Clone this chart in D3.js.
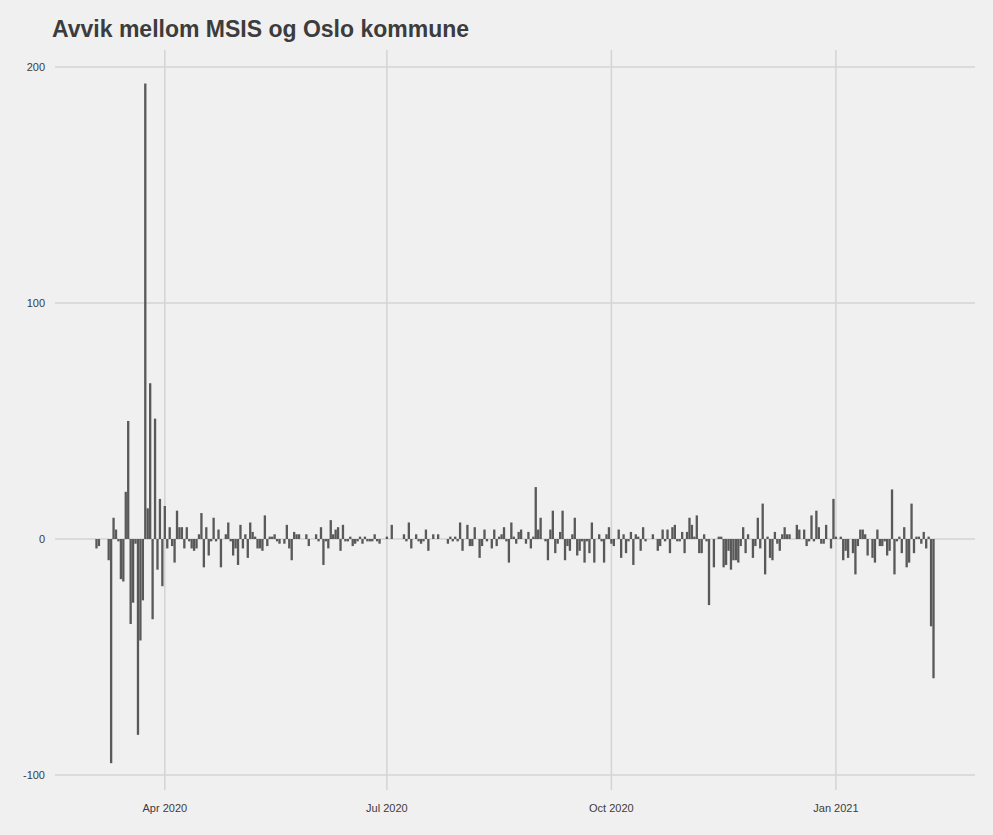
<!DOCTYPE html>
<html>
<head>
<meta charset="utf-8">
<script src="https://cdn.jsdelivr.net/npm/d3@7"></script>
<style>
	body { margin: 0; background: #f0f0f0; }
	svg { display: block; font-family: "Liberation Sans", Arial, sans-serif; }
</style>
</head>
<body>
<svg id="chart" width="993" height="835"></svg>
<script>
// daily deviation, starting 1 Mar 2020
const seg1 = [0,0,0,-4,-3,0,0,0,-9,-95,9,4,-1,-17,-18,20,50,-36,-27,-2,-83,-43,-26,193,13,66,-34,51,-13,17,-20,14,-4,5,-3,-10,12,5];
const seg2 = [5,-4,5,-1,-4,-5,-4,2,11,-12,5,-7,-1,9,-1,4,-12,0,2,7,-1,-7,-4,-11,6,-4,2,-8,7,3,1,-4,-4,-5,10,-3,1,1,2,-1,-2,0,-2,6,-4,-9,3,2,2,0,0,2,-3,0,0,2,-1,5,-11,-1,-4,8,2,4,5,-5,6,-1,-1,1,-3,-2,-1,1,-2,1,-1,-1,-1,2,-1];
const seg3 = [-2,0,0,1,0,6,0,0,0,0,2,-1,7,-4,0,2,-1,-2,-1,4,-5,0,2,0,2,0,0,0,-2,1,-1,1,-1,7,-5,0,6,-3,-3,5,0,-8,-3,4,-1,0,-4,4,-3,1,2,5,-1,-10,7,1,-2,3,4,0,-2,3,-4,1,22,4,9,0,-1,-9,4,12,-6,-2,3,12,-9,-3,-5,2,9];
const seg4 = [-7,-5,-1,-10,-1,-6,7,-10,0,2,-1,-10,2,5,-2,-3,0,4,-8,2,-6,-1,3,-11,2,1,-5,5,-1,0,0,2,0,-5,-3,4,-1,4,-6,5,6,-1,-1,3,-6,3,9,6,1,10,-6,-6,2,-1,-28,0,-12,0,1,1,-12,-11,-5,-13,-9,-9,-10,-3,5,-6,2,0,-8,-3,9,-4];
const seg5 = [15,-15,1,-8,-9,3,-2,-5,2,5,2,2,0,0,6,4,0,4,-3,-1,10,-1,12,5,-2,-2,6,0,-4,17,1,0,1,-9,-5,-8,0,-6,-15,-3,4,4,2,-7,0,-8,-10,4,-3,-3,-1,-7,-5,21,-15,-1,1,-6,5,-12,-10,15,-6,1,1,-2,3,-4,1,-37,-59];

const values = [...seg1, ...seg2, ...seg3, ...seg4, ...seg5];
const startDate = new Date(2020, 2, 1);
const data = values.map((v, i) => ({ date: d3.timeDay.offset(startDate, i), value: v }));

const yTicks = [-100, 0, 100, 200];
const xTicks = [new Date(2020, 3, 1), new Date(2020, 6, 1), new Date(2020, 9, 1), new Date(2021, 0, 1)];
const xTickLabels = ["Apr 2020", "Jul 2020", "Oct 2020", "Jan 2021"];

const svg = d3.select("#chart");
const grid = "#d4d4d4";

const x = d3.scaleTime()
	.domain([new Date(2020, 1, 16), new Date(2021, 1, 27)])
	.range([55, 975]);
const y = d3.scaleLinear().domain([-100, 200]).range([775, 67]);

svg.append("text")
	.attr("x", 52).attr("y", 37)
	.attr("font-size", 23).attr("font-weight", "bold")
	.attr("fill", "#3c3c3c")
	.text("Avvik mellom MSIS og Oslo kommune");

svg.append("g").selectAll("line").data(yTicks).join("line")
	.attr("x1", 55).attr("x2", 975)
	.attr("y1", d => y(d)).attr("y2", d => y(d))
	.attr("stroke", grid).attr("stroke-width", 1.5);

svg.append("g").selectAll("line").data(xTicks).join("line")
	.attr("x1", d => x(d)).attr("x2", d => x(d))
	.attr("y1", 50).attr("y2", 790)
	.attr("stroke", grid).attr("stroke-width", 1.5);

svg.append("g").selectAll("text").data(yTicks).join("text")
	.attr("x", 45).attr("y", d => y(d)).attr("dy", "0.35em")
	.attr("text-anchor", "end").attr("font-size", 11).attr("fill", "#3c3c3c")
	.text(d => d);

svg.append("g").selectAll("text").data(xTicks).join("text")
	.attr("x", d => x(d)).attr("y", 812)
	.attr("text-anchor", "middle").attr("font-size", 11).attr("fill", "#3c3c3c")
	.text((d, i) => xTickLabels[i]);

const dayW = x(new Date(2020, 3, 2)) - x(new Date(2020, 3, 1));
const bw = dayW * 0.95;

svg.append("g").selectAll("rect").data(data.filter(d => d.value !== 0)).join("rect")
	.attr("x", d => x(d.date) - bw / 2)
	.attr("width", bw)
	.attr("y", d => y(Math.max(0, d.value)))
	.attr("height", d => Math.abs(y(d.value) - y(0)))
	.attr("fill", "#595959");
</script>
</body>
</html>
